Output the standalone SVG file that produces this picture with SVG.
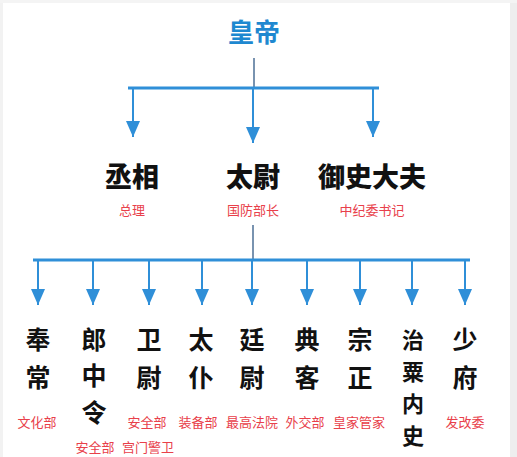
<svg xmlns="http://www.w3.org/2000/svg" width="517" height="457" viewBox="0 0 517 457">
<defs>
<style>
.t1{font-family:"Noto Sans CJK SC",sans-serif;font-size:26px;font-weight:bold;fill:#1e88d0;text-anchor:middle}
.t2{font-family:"Noto Sans CJK SC",sans-serif;font-size:27px;font-weight:900;fill:#111;text-anchor:middle}
.t3{font-family:"Noto Sans CJK SC",sans-serif;font-size:25px;font-weight:bold;fill:#111;text-anchor:middle}
.t4{font-family:"Noto Sans CJK SC",sans-serif;font-size:22px;font-weight:bold;fill:#111;text-anchor:middle}
.r{font-family:"Noto Sans CJK SC",sans-serif;font-size:13px;fill:#e8404a;text-anchor:middle}
.bar{stroke:#2f8fd8;stroke-width:3;fill:none}
.br{stroke:#2f8fd8;stroke-width:2;fill:none}
.stem{stroke:#4d6f96;stroke-width:1.5;fill:none}
</style>
<marker id="ah" viewBox="0 0 16 14" refX="16" refY="7" markerWidth="16" markerHeight="14" markerUnits="userSpaceOnUse" orient="auto">
<path d="M0,0 L16,7 L0,14 Z" fill="#2f8fd8"/>
</marker>
</defs>
<rect width="517" height="457" fill="#ffffff"/>
<rect x="510" y="0" width="7" height="457" fill="#eeeeee"/>
<rect x="0" y="0" width="3" height="457" fill="#f2f2f2"/>
<rect x="0" y="0" width="517" height="3" fill="#f4f4f4"/>

<g id="connectors">
<line class="stem" x1="254" y1="58" x2="254" y2="88"/>
<line class="bar" x1="128" y1="88" x2="379" y2="88"/>
<line class="br" x1="133" y1="88" x2="133" y2="137" marker-end="url(#ah)"/>
<line class="br" x1="253" y1="88" x2="253" y2="143" marker-end="url(#ah)"/>
<line class="br" x1="373" y1="88" x2="373" y2="137" marker-end="url(#ah)"/>
<line class="stem" x1="253" y1="225" x2="253" y2="260"/>
<line class="bar" x1="33" y1="260" x2="470" y2="260"/>
<line class="br" x1="38" y1="260" x2="38" y2="305" marker-end="url(#ah)"/>
<line class="br" x1="93" y1="260" x2="93" y2="305" marker-end="url(#ah)"/>
<line class="br" x1="149" y1="260" x2="149" y2="305" marker-end="url(#ah)"/>
<line class="br" x1="202" y1="260" x2="202" y2="305" marker-end="url(#ah)"/>
<line class="br" x1="252" y1="260" x2="252" y2="305" marker-end="url(#ah)"/>
<line class="br" x1="307" y1="260" x2="307" y2="305" marker-end="url(#ah)"/>
<line class="br" x1="360" y1="260" x2="360" y2="305" marker-end="url(#ah)"/>
<line class="br" x1="412" y1="260" x2="412" y2="305" marker-end="url(#ah)"/>
<line class="br" x1="465" y1="260" x2="465" y2="305" marker-end="url(#ah)"/>
</g>

<g id="huangdi"><text class="t1" x="254" y="42">皇帝</text></g>

<g id="chengxiang"><text class="t2" x="132" y="187">丞相</text><text class="r" x="132" y="215">总理</text></g>
<g id="taiwei"><text class="t2" x="253" y="187">太尉</text><text class="r" x="253" y="215">国防部长</text></g>
<g id="yushidafu"><text class="t2" x="372" y="187">御史大夫</text><text class="r" x="372" y="215">中纪委书记</text></g>

<g id="fengchang"><text class="t3" x="38" y="349">奉<tspan x="38" dy="38">常</tspan></text><text class="r" x="37" y="427">文化部</text></g>
<g id="langzhongling"><text class="t3" x="94" y="349">郎<tspan x="94" dy="36">中</tspan><tspan x="94" dy="37">令</tspan></text><text class="r" x="95" y="452">安全部</text></g>
<g id="weiwei"><text class="t3" x="149" y="349">卫<tspan x="149" dy="38">尉</tspan></text><text class="r" x="147" y="427">安全部</text><text class="r" x="148" y="452">宫门警卫</text></g>
<g id="taipu"><text class="t3" x="201" y="349">太<tspan x="201" dy="38">仆</tspan></text><text class="r" x="198" y="427">装备部</text></g>
<g id="tingwei"><text class="t3" x="252" y="349">廷<tspan x="252" dy="38">尉</tspan></text><text class="r" x="252" y="427">最高法院</text></g>
<g id="dianke"><text class="t3" x="307" y="349">典<tspan x="307" dy="38">客</tspan></text><text class="r" x="305" y="427">外交部</text></g>
<g id="zongzheng"><text class="t3" x="360" y="349">宗<tspan x="360" dy="38">正</tspan></text><text class="r" x="359" y="427">皇家管家</text></g>
<g id="zhisuneishi"><text class="t4" x="413" y="348">治<tspan x="413" dy="32">粟</tspan><tspan x="413" dy="32">内</tspan><tspan x="413" dy="32">史</tspan></text></g>
<g id="shaofu"><text class="t3" x="465" y="349">少<tspan x="465" dy="38">府</tspan></text><text class="r" x="465" y="427">发改委</text></g>
</svg>
